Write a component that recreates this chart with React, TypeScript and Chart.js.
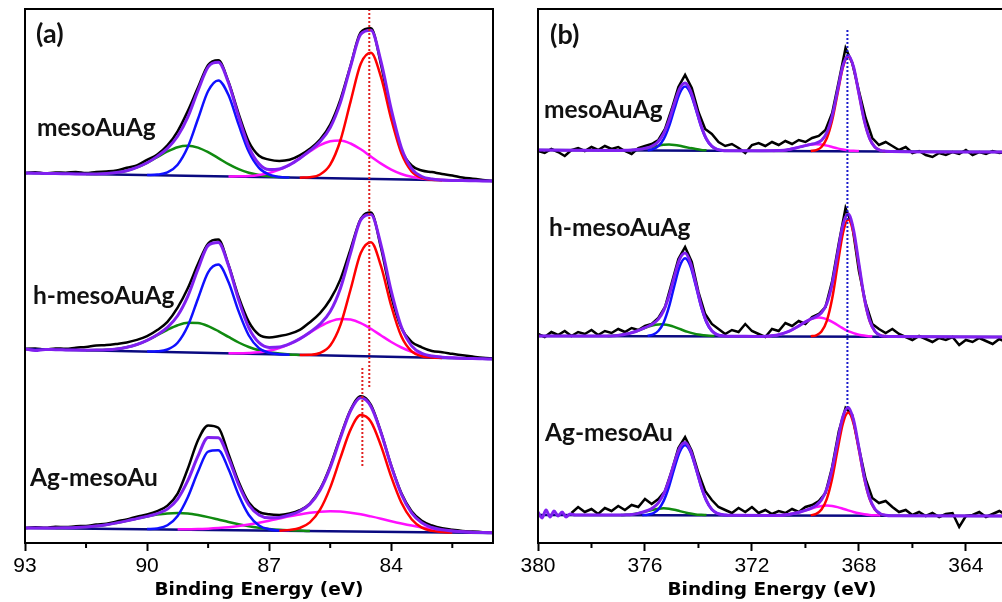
import React, { useEffect, useRef } from "react";
import { Chart, registerables } from "chart.js";

Chart.register(...registerables);

type Pair = [number, number];

// ================= Panel (a): Au 4f =================
const energyA = [
  93, 92.75, 92.5, 92.25, 92, 91.75, 91.5, 91.25, 91, 90.75,
  90.5, 90.25, 90, 89.75, 89.5, 89.25, 89, 88.75, 88.5, 88.25,
  88, 87.75, 87.5, 87.25, 87, 86.75, 86.5, 86.25, 86, 85.75,
  85.5, 85.25, 85, 84.75, 84.5, 84.25, 84, 83.75, 83.5, 83.25,
  83, 82.75, 82.5, 82.25, 82, 81.75, 81.5,
];
const ticksMajorA = [93, 90, 87, 84];
const ticksMinorA = [91.5, 88.5, 85.5, 82.5];

// mesoAuAg (a)
const rawA_meso = [
  370, 370.8, 369.6, 370.5, 370.3, 371.1, 370, 371.1, 371.5, 372.4,
  375.3, 377.6, 383.2, 388.6, 397.6, 411.7, 431.9, 455.4, 478, 482.8,
  461.2, 429.2, 401.2, 387.2, 383.4, 382.1, 383.2, 387.6, 394.3, 403.4,
  418.4, 443.4, 477.5, 510.7, 514.7, 478.1, 428.6, 393.1, 377.5, 372.5,
  370.9, 369, 367.6, 365.5, 364.3, 363.1, 362,
];
const fitA_meso = [
  370, 369.8, 369.6, 369.5, 369.3, 369.1, 369, 369.1, 369.5, 370.4,
  372.3, 375.6, 380.2, 386.6, 394.6, 406.7, 425.9, 452.4, 476, 480.8,
  460.2, 426.2, 396.2, 379.2, 373.4, 374.1, 378.2, 384.6, 392.3, 401.4,
  415.4, 440.4, 476.5, 508.7, 512.7, 481.1, 433.6, 395.1, 374.5, 366.5,
  363.9, 363, 362.6, 362.5, 362.3, 362.1, 362,
];
const blueA_meso: Pair[] = [[90,367.9],[89.75,368.4],[89.5,370.6],[89.25,378.3],[89,395.9],[88.75,424],[88.5,452],[88.25,462.6],[88,447.9],[87.75,418.3],[87.5,391.2],[87.25,375.1],[87,368.3],[86.75,366.1],[86.5,365.4]];
const redA_meso: Pair[] = [[86.25,365.3],[86,365.8],[85.75,368.5],[85.5,378.4],[85.25,402.5],[85,441.4],[84.75,479.2],[84.5,490.2],[84.25,465.6],[84,423.9],[83.75,389.6],[83.5,371.6],[83.25,365.2],[83,363.3],[82.75,362.8]];
const greenA_meso: Pair[] = [[91.5,369],[91.25,369.1],[91,369.5],[90.75,370.4],[90.5,372.3],[90.25,375.6],[90,380.2],[89.75,385.9],[89.5,391.5],[89.25,395.8],[89,397.2],[88.75,395.4],[88.5,390.8],[88.25,384.9],[88,378.8],[87.75,373.8],[87.5,370.2],[87.25,368],[87,366.7],[86.75,365.9],[86.5,365.4]];
const magentaA_meso: Pair[] = [[88,366.5],[87.75,366.7],[87.5,367],[87.25,368.1],[87,370],[86.75,373.3],[86.5,378.2],[86.25,384.6],[86,391.6],[85.75,397.8],[85.5,401.7],[85.25,402.5],[85,399.5],[84.75,393.7],[84.5,386.5],[84.25,379.4],[84,373.4],[83.75,369],[83.5,366.2],[83.25,364.5],[83,363.6],[82.75,363],[82.5,362.6]];
const baseA_meso: Pair[] = [[93,370],[81.5,362]];

// h-mesoAuAg (a)
const rawA_hmeso = [
  194, 194.5, 193.4, 194.6, 194.2, 195.3, 196.1, 197.4, 197.9, 199.1,
  200.6, 203.1, 206.8, 212.9, 221.2, 235.3, 254.7, 278.9, 299.5, 303.4,
  278.4, 246, 221.1, 208.3, 205.6, 207, 209.1, 213.1, 220.8, 229.9,
  243.5, 263.6, 293.9, 324.1, 330.4, 294.7, 246.8, 214.9, 201.2, 195.7,
  192, 190.8, 189.2, 187.7, 186.4, 185.2, 184.5,
];
const fitA_hmeso = [
  194, 192.6, 193.6, 193.3, 193.1, 192.9, 192.8, 192.9, 193.2, 194,
  195.7, 198.5, 202.7, 208.3, 215.7, 227.3, 246.7, 273.9, 297.5, 300.4,
  277.4, 243, 215.1, 200.3, 195.6, 196, 199.1, 204.1, 210.8, 218.9,
  231.5, 254.6, 289.9, 323.1, 328.4, 297.7, 251.8, 215.9, 197.2, 189.7,
  187, 185.8, 185.2, 184.7, 184.4, 184.2, 184,
];
const blueA_hmeso: Pair[] = [[90,191.4],[89.75,191.7],[89.5,193.5],[89.25,200.3],[89,217],[88.75,244.3],[88.5,270.7],[88.25,278.4],[88,261],[87.75,231.6],[87.5,207.5],[87.25,194.8],[87,190.2],[86.75,188.8],[86.5,188.3]];
const redA_hmeso: Pair[] = [[86.25,188.1],[86,188.3],[85.75,190],[85.5,197.5],[85.25,217.9],[85,253.5],[84.75,290],[84.5,300.8],[84.25,276.6],[84,237],[83.75,206.4],[83.5,191.6],[83.25,186.7],[83,185.5],[82.75,185.1]];
const greenA_hmeso: Pair[] = [[91.5,192.8],[91.25,192.9],[91,193.2],[90.75,194],[90.5,195.7],[90.25,198.5],[90,202.7],[89.75,207.8],[89.5,213.2],[89.25,217.7],[89,220.2],[88.75,219.9],[88.5,216.9],[88.25,211.9],[88,206.1],[87.75,200.5],[87.5,196],[87.25,192.8],[87,190.7],[86.75,189.5],[86.5,188.6],[86.25,188.1]];
const magentaA_hmeso: Pair[] = [[88,189.7],[87.75,189.7],[87.5,190],[87.25,190.7],[87,192.3],[86.75,194.9],[86.5,198.8],[86.25,204.1],[86,210.4],[85.75,216.6],[85.5,221.5],[85.25,224],[85,223.4],[84.75,219.9],[84.5,214.2],[84.25,207.5],[84,201],[83.75,195.5],[83.5,191.3],[83.25,188.5],[83,186.8],[82.75,185.8],[82.5,185.2],[82.25,184.7]];
const baseA_hmeso: Pair[] = [[93,194],[81.5,184]];

// Ag-mesoAu (a)
const rawA_agmeso = [
  15, 15.8, 15.2, 16.3, 15.9, 16.8, 17.1, 18.4, 19.3, 21.6,
  23.6, 26.4, 28.6, 31.9, 37.4, 49.4, 74.3, 102.8, 117.6, 115.3,
  89.1, 61.3, 40.5, 31.1, 28.7, 28.1, 29.5, 32.8, 39.4, 53.8,
  76.9, 106.4, 133.2, 146.7, 138.1, 110.5, 77.3, 49.7, 31.7, 22.2,
  17.5, 14.7, 13.2, 12.1, 11.4, 10.8, 10.4,
];
const fitA_agmeso = [
  15, 15, 15, 15, 15.2, 15.5, 16.1, 17, 18.3, 20.1,
  22.1, 24.4, 26.6, 29.4, 33.9, 43.9, 62.3, 86.8, 105.6, 105.3,
  85.1, 58.3, 38, 28.1, 25.2, 25.6, 28, 31.8, 38.9, 52.8,
  75.4, 104.9, 132.2, 145.2, 136.6, 110, 76.8, 48.7, 30.2, 20.2,
  15.5, 13.2, 12, 11.3, 10.8, 10.5, 10.2,
];
const blueA_agmeso: Pair[] = [[90,13.9],[89.75,14.6],[89.5,17.8],[89.25,27.1],[89,45.7],[88.75,71.2],[88.5,91.4],[88.25,92.7],[88,74],[87.75,48],[87.5,28],[87.25,17.6],[87,13.7],[86.75,12.5],[86.5,12.2]];
const redA_agmeso: Pair[] = [[86.75,12.3],[86.5,13],[86.25,15],[86,20.6],[85.75,33.3],[85.5,55.4],[85.25,85.1],[85,113.4],[84.75,127.9],[84.5,121.3],[84.25,96.9],[84,66.1],[83.75,40.2],[83.5,23.7],[83.25,15.4],[83,12.1],[82.75,10.9],[82.5,10.5]];
const greenA_agmeso: Pair[] = [[92.25,15],[92,15.2],[91.75,15.5],[91.5,16.1],[91.25,17],[91,18.3],[90.75,20.1],[90.5,22.1],[90.25,24.4],[90,26.6],[89.75,28.4],[89.5,29.6],[89.25,29.9],[89,29.4],[88.75,27.9],[88.5,25.9],[88.25,23.5],[88,21],[87.75,18.8],[87.5,16.8],[87.25,15.3],[87,14.1],[86.75,13.3],[86.5,12.8],[86.25,12.4],[86,11.9]];
const magentaA_agmeso: Pair[] = [[89.25,13.7],[89,13.8],[88.75,13.9],[88.5,14.3],[88.25,14.9],[88,15.7],[87.75,16.9],[87.5,18.4],[87.25,20.2],[87,22.2],[86.75,24.4],[86.5,26.6],[86.25,28.6],[86,30.2],[85.75,31.3],[85.5,31.7],[85.25,31.4],[85,30.3],[84.75,28.7],[84.5,26.6],[84.25,24.3],[84,21.8],[83.75,19.5],[83.5,17.4],[83.25,15.6],[83,14.1],[82.75,12.9],[82.5,12],[82.25,11.3],[82,10.8],[81.75,10.5],[81.5,10.2]];
const baseA_agmeso: Pair[] = [[93,15],[81.5,10]];

// reference lines (a)
const refLineA1: Pair[] = [[84.54,534],[84.54,155]];
const refLineA2: Pair[] = [[84.71,175],[84.71,76]];

// ================= Panel (b): Ag 3d =================
const energyB = [
  380, 379.75, 379.5, 379.25, 379, 378.75, 378.5, 378.25, 378, 377.75,
  377.5, 377.25, 377, 376.75, 376.5, 376.25, 376, 375.75, 375.5, 375.25,
  375, 374.75, 374.5, 374.25, 374, 373.75, 373.5, 373.25, 373, 372.75,
  372.5, 372.25, 372, 371.75, 371.5, 371.25, 371, 370.75, 370.5, 370.25,
  370, 369.75, 369.5, 369.25, 369, 368.75, 368.5, 368.25, 368, 367.75,
  367.5, 367.25, 367, 366.75, 366.5, 366.25, 366, 365.75, 365.5, 365.25,
  365, 364.75, 364.5, 364.25, 364, 363.75, 363.5, 363.25, 363, 362.75,
  362.5,
];
const ticksMajorB = [380, 376, 372, 368, 364];
const ticksMinorB = [378, 374, 370, 366];

const rawB_meso = [
  392, 390, 394, 391, 387, 393, 395, 392, 396, 393,
  397, 394, 396, 392, 389, 395, 397, 399, 403, 414,
  434, 456, 468, 455, 431, 414, 409, 401, 397, 399,
  395, 390, 398, 400, 397, 401, 398, 402, 399, 403,
  401, 405, 407, 413, 430, 462, 495, 480, 452, 425,
  405, 398, 401, 397, 393, 396, 390, 392, 388, 386,
  390, 388, 391, 389, 393, 388, 391, 389, 392, 390,
  391,
];
const fitB_meso: Pair[] = [[380,393],[376.9,392.6],[376.7,392.8],[376.5,393],[376.3,393.4],[376.1,394.1],[375.9,395.3],[375.7,397.4],[375.5,401.6],[375.3,409.5],[375.1,422.7],[374.9,439.6],[374.7,454.6],[374.5,460],[374.3,452.3],[374.1,435.4],[373.9,417.3],[373.7,404],[373.5,396.8],[373.3,393.6],[373.1,392.6],[372.9,392.3],[372.7,392.2],[370.8,392.8],[370.6,393.6],[370.4,394.8],[370.2,396.1],[370,397.4],[369.8,398.6],[369.6,399.9],[369.4,402.6],[369.2,410.3],[369,426.9],[368.8,452.2],[368.6,477.2],[368.4,487.6],[368.2,476],[368,449.5],[367.8,422.5],[367.6,404.5],[367.4,395.8],[367.2,392.7],[367,391.8],[366.8,391.6],[362.5,391]];
const blueB_meso: Pair[] = [[375.9,392.8],[375.7,393.8],[375.5,396.8],[375.3,403.8],[375.1,416.7],[374.9,433.9],[374.7,449.8],[374.5,456.4],[374.3,449.8],[374.1,433.9],[373.9,416.5],[373.7,403.6],[373.5,396.6],[373.3,393.6],[373.1,392.6]];
const greenB_meso: Pair[] = [[376.5,393],[376.3,393.4],[376.1,394.1],[375.9,395],[375.7,396.1],[375.5,397.3],[375.3,398.2],[375.1,398.5],[374.9,398.1],[374.7,397.2],[374.5,396],[374.3,394.9],[374.1,393.9],[373.9,393.1],[373.7,392.7]];
const redB_meso: Pair[] = [[369.8,392],[369.6,392.9],[369.4,396],[369.2,404.7],[369,422.7],[368.8,449.3],[368.6,475.5],[368.4,486.7],[368.2,475.5],[368,449.3],[367.8,422.5],[367.6,404.5],[367.4,395.8],[367.2,392.7],[367,391.6]];
const magentaB_meso: Pair[] = [[371.2,392.1],[371,392.4],[370.8,392.8],[370.6,393.6],[370.4,394.8],[370.2,396.1],[370,397.4],[369.8,398.4],[369.6,398.8],[369.4,398.4],[369.2,397.4],[369,396],[368.8,394.6],[368.6,393.4],[368.4,392.6],[368.2,392.2],[368,391.9]];
const baseB_meso: Pair[] = [[380,393],[362.5,391]];

const rawB_hmeso = [
  209, 206, 211, 208, 212, 207, 211, 209, 213, 208,
  212, 210, 214, 211, 215, 213, 217, 219, 225, 236,
  260, 284, 296, 281, 251, 229, 219, 214, 209, 213,
  211, 219, 212, 209, 206, 214, 212, 220, 217, 222,
  219, 226, 229, 236, 262, 300, 335, 318, 272, 240,
  219, 214, 210, 214, 209, 206, 203, 207, 204, 201,
  205, 203, 206, 198, 203, 201, 205, 202, 199, 204,
  201,
];
const fitB_hmeso: Pair[] = [[380,207],[377.3,207.1],[376.9,208],[376.7,209],[376.5,210.3],[376.3,212],[376.1,214.2],[375.9,216.5],[375.7,219.3],[375.5,223.9],[375.3,232.5],[375.1,247.2],[374.9,266.7],[374.7,284.1],[374.5,290],[374.3,280.3],[374.1,259.6],[373.9,237.5],[373.7,221.3],[373.5,212.3],[373.3,208.4],[373.1,207.2],[372.9,206.8],[372.7,206.8],[371.8,206.5],[371.6,206.6],[371.4,206.9],[371.2,207.4],[371,208.3],[370.8,209.8],[370.6,211.9],[370.4,214.7],[370.2,217.9],[370,221.1],[369.8,224],[369.6,226.5],[369.4,230.3],[369.2,239.5],[369,259.1],[368.8,288.9],[368.6,317.9],[368.4,328.9],[368.2,313],[368,279.3],[367.8,245.4],[367.6,222.7],[367.4,211.7],[367.2,207.7],[367,206.7],[366.8,206.4],[362.5,206]];
const blueB_hmeso: Pair[] = [[375.9,207.2],[375.7,208.4],[375.5,212],[375.3,220.6],[375.1,236.3],[374.9,257.4],[374.7,276.8],[374.5,284.8],[374.3,276.8],[374.1,257.4],[373.9,236.3],[373.7,220.6],[373.5,212],[373.3,208.4],[373.1,207.2]];
const greenB_hmeso: Pair[] = [[377.4,207],[377.2,207.2],[377,207.7],[376.8,208.4],[376.6,209.6],[376.4,211.1],[376.2,213],[376,215.1],[375.8,217],[375.6,218.3],[375.4,218.8],[375.2,218.3],[375,217],[374.8,215.1],[374.6,213],[374.4,211.1],[374.2,209.6],[374,208.4],[373.8,207.7],[373.6,207.2],[373.4,207]];
const redB_hmeso: Pair[] = [[369.8,206.7],[369.6,207.7],[369.4,211.5],[369.2,222.2],[369,244.4],[368.8,277.4],[368.6,309.6],[368.4,323.4],[368.2,309.6],[368,277.4],[367.8,244.4],[367.6,222.2],[367.4,211.5],[367.2,207.7],[367,206.7]];
const magentaB_hmeso: Pair[] = [[371.5,206.7],[371.3,207.1],[371.1,207.8],[370.9,209],[370.7,210.8],[370.5,213.2],[370.3,216.3],[370.1,219.6],[369.9,222.5],[369.7,224.6],[369.5,225.4],[369.3,224.6],[369.1,222.5],[368.9,219.6],[368.7,216.3],[368.5,213.2],[368.3,210.8],[368.1,209],[367.9,207.8],[367.7,207.1],[367.5,206.7]];
const baseB_hmeso: Pair[] = [[380,207],[362.5,206]];

const rawB_agmeso: (number | null)[] = [
  null, null, null, null, null, 30, 36, 31, 34, 29,
  35, 32, 37, 33, 38, 36, 44, 39, 44, 52,
  72, 95, 106, 92, 70, 52, 43, 36, 33, 30,
  35, 31, 36, 30, 33, 29, 32, 30, 34, 31,
  36, 38, 42, 50, 76, 112, 135, 128, 95, 64,
  45, 40, 42, 36, 31, 33, 28, 31, 27, 30,
  26, 29, 30, 16, 27, 28, 31, 26, 29, 32,
  28,
];
const fitB_agmeso: Pair[] = [[380,31],[379.85,25],[379.7,33],[379.55,26],[379.4,32],[379.25,27],[379.1,31],[378.95,26],[378.8,29],[378.6,28],[376.9,28],[376.7,28.2],[376.5,28.6],[376.3,29.4],[376.1,30.7],[375.9,32.5],[375.7,35.3],[375.5,40.2],[375.3,49.1],[375.1,63.1],[374.9,80.5],[374.7,95.3],[374.5,100.6],[374.3,92.8],[374.1,75.8],[373.9,57],[373.7,42.3],[373.5,33.6],[373.3,29.7],[373.1,28.3],[372.9,27.8],[372.7,27.7],[371.4,27.5],[371.2,27.6],[371,27.8],[370.8,28.1],[370.6,28.8],[370.4,29.7],[370.2,31],[370,32.6],[369.8,34.7],[369.6,37.6],[369.4,43.1],[369.2,54.2],[369,74.2],[368.8,101.4],[368.6,126.3],[368.4,135.6],[368.2,123],[368,95.2],[367.8,65.9],[367.6,44.9],[367.4,33.9],[367.2,29.3],[367,27.8],[366.8,27.3],[362.5,27]];
const blueB_agmeso: Pair[] = [[376.1,27.8],[375.9,28.3],[375.7,29.7],[375.5,33.6],[375.3,42.1],[375.1,56.5],[374.9,74.9],[374.7,91.1],[374.5,97.7],[374.3,91.1],[374.1,74.9],[373.9,56.5],[373.7,42.1],[373.5,33.6],[373.3,29.7],[373.1,28.3],[372.9,27.8]];
const greenB_agmeso: Pair[] = [[376.9,27.9],[376.7,28.2],[376.5,28.6],[376.3,29.4],[376.1,30.6],[375.9,31.9],[375.7,33.3],[375.5,34.3],[375.3,34.7],[375.1,34.3],[374.9,33.3],[374.7,31.9],[374.5,30.6],[374.3,29.4],[374.1,28.6],[373.9,28.2],[373.7,27.9]];
const redB_agmeso: Pair[] = [[369.8,27.8],[369.6,29.1],[369.4,33.5],[369.2,44.2],[369,64.6],[368.8,92.9],[368.6,119.4],[368.4,130.4],[368.2,119.4],[368,92.9],[367.8,64.6],[367.6,44.2],[367.4,33.5],[367.2,29.1],[367,27.8]];
const magentaB_agmeso: Pair[] = [[371.2,27.6],[371,27.8],[370.8,28.1],[370.6,28.75],[370.4,29.7],[370.2,31],[370,32.6],[369.8,34.3],[369.6,35.9],[369.4,37],[369.2,37.4],[369,37],[368.8,35.9],[368.6,34.3],[368.4,32.6],[368.2,31],[368,29.7],[367.8,28.75],[367.6,28.1],[367.4,27.8],[367.2,27.6]];
const baseB_agmeso: Pair[] = [[380,28],[362.5,27]];

const refLineB: Pair[] = [[368.43,513],[368.43,136]];

// ================= helpers =================
const C = {
  raw: "#000000",
  fit: "#8020f0",
  blue: "#1010ff",
  red: "#ff0000",
  green: "#108a10",
  magenta: "#ff10ff",
  base: "#0a0a80",
};

const fromGrid = (xs: number[], ys: (number | null)[]) => xs.map((x, i) => ({ x, y: ys[i] }));
const fromPairs = (ps: Pair[]) => ps.map(([x, y]) => ({ x, y }));

const line = (data: any[], color: string, width: number, extra: any = {}) => ({
  data,
  borderColor: color,
  backgroundColor: color,
  borderWidth: width,
  pointRadius: 0,
  pointHoverRadius: 0,
  fill: false,
  cubicInterpolationMode: "monotone",
  spanGaps: false,
  ...extra,
});

const framePlugin = {
  id: "frame",
  afterDatasetsDraw(chart: any, _args: any, opts: any) {
    const { ctx, chartArea } = chart;
    const { left, right, top, bottom } = chartArea;
    ctx.save();
    ctx.strokeStyle = "#000";
    ctx.lineWidth = 2;
    ctx.strokeRect(left, top, right - left, bottom - top);
    const xs = chart.scales.x;
    ctx.beginPath();
    (opts.minor || []).forEach((v: number) => {
      const px = xs.getPixelForValue(v);
      ctx.moveTo(px, bottom);
      ctx.lineTo(px, bottom + 5);
    });
    ctx.stroke();
    ctx.restore();
  },
};

function makeOptions(min: number, max: number, majors: number[], minors: number[], padLeft: number, padRight: number) {
  return {
    animation: false,
    responsive: false,
    events: [],
    layout: { padding: { left: padLeft, right: padRight, top: 9, bottom: 0 } },
    plugins: {
      legend: { display: false },
      tooltip: { enabled: false },
      frame: { minor: minors },
    },
    scales: {
      x: {
        type: "linear",
        reverse: true,
        min,
        max,
        afterBuildTicks: (s: any) => {
          s.ticks = majors.map((v) => ({ value: v }));
        },
        afterFit: (s: any) => {
          s.height = 59;
        },
        grid: {
          display: true,
          drawOnChartArea: false,
          drawTicks: true,
          tickLength: 8,
          tickWidth: 2,
          tickColor: "#000",
        },
        border: { display: false },
        ticks: {
          color: "#000",
          font: { family: "'Liberation Sans', Arial, sans-serif", size: 21 },
          padding: 3,
          maxRotation: 0,
          autoSkip: false,
          callback: (v: any) => String(v),
        },
        title: {
          display: true,
          text: "Binding Energy (eV)",
          color: "#000",
          font: { family: "'DejaVu Sans', sans-serif", size: 18.5, weight: "bold" },
          padding: { top: 0, bottom: 1 },
        },
      },
      y: { type: "linear", display: false, min: 0, max: 534 },
    },
  };
}

function configA(): any {
  const dot = { borderDash: [2, 2], cubicInterpolationMode: "default", tension: 0 };
  const straight = { tension: 0, cubicInterpolationMode: "default" };
  return {
    type: "line",
    data: {
      datasets: [
        line(fromPairs(refLineA1), "#e02020", 2, dot),
        line(fromPairs(refLineA2), "#e02020", 2, dot),
        line(fromGrid(energyA, fitA_meso), C.fit, 3),
        line(fromGrid(energyA, fitA_hmeso), C.fit, 3),
        line(fromGrid(energyA, fitA_agmeso), C.fit, 3),
        line(fromPairs(redA_meso), C.red, 2.5),
        line(fromPairs(redA_hmeso), C.red, 2.5),
        line(fromPairs(redA_agmeso), C.red, 2.5),
        line(fromPairs(blueA_meso), C.blue, 2.5),
        line(fromPairs(blueA_hmeso), C.blue, 2.5),
        line(fromPairs(blueA_agmeso), C.blue, 2.5),
        line(fromPairs(magentaA_meso), C.magenta, 2.5),
        line(fromPairs(magentaA_hmeso), C.magenta, 2.5),
        line(fromPairs(magentaA_agmeso), C.magenta, 2.5),
        line(fromPairs(greenA_meso), C.green, 2.5),
        line(fromPairs(greenA_hmeso), C.green, 2.5),
        line(fromPairs(greenA_agmeso), C.green, 2.5),
        line(fromPairs(baseA_meso), C.base, 2.5, straight),
        line(fromPairs(baseA_hmeso), C.base, 2.5, straight),
        line(fromPairs(baseA_agmeso), C.base, 2.5, straight),
        line(fromGrid(energyA, rawA_meso), C.raw, 2.5),
        line(fromGrid(energyA, rawA_hmeso), C.raw, 2.5),
        line(fromGrid(energyA, rawA_agmeso), C.raw, 2.5),
      ],
    },
    options: makeOptions(81.5, 93, ticksMajorA, ticksMinorA, 25, 27),
    plugins: [framePlugin],
  };
}

function configB(): any {
  const dot = { borderDash: [2, 2], cubicInterpolationMode: "default", tension: 0 };
  const noisy = { cubicInterpolationMode: "default", tension: 0 };
  return {
    type: "line",
    data: {
      datasets: [
        line(fromPairs(refLineB), "#1a1acc", 2, dot),
        line(fromPairs(fitB_meso), C.fit, 3),
        line(fromPairs(fitB_hmeso), C.fit, 3),
        line(fromPairs(fitB_agmeso), C.fit, 3),
        line(fromPairs(redB_meso), C.red, 2.5),
        line(fromPairs(redB_hmeso), C.red, 2.5),
        line(fromPairs(redB_agmeso), C.red, 2.5),
        line(fromPairs(blueB_meso), C.blue, 2.5),
        line(fromPairs(blueB_hmeso), C.blue, 2.5),
        line(fromPairs(blueB_agmeso), C.blue, 2.5),
        line(fromPairs(magentaB_meso), C.magenta, 2.5),
        line(fromPairs(magentaB_hmeso), C.magenta, 2.5),
        line(fromPairs(magentaB_agmeso), C.magenta, 2.5),
        line(fromPairs(greenB_meso), C.green, 2.5),
        line(fromPairs(greenB_hmeso), C.green, 2.5),
        line(fromPairs(greenB_agmeso), C.green, 2.5),
        line(fromPairs(baseB_meso), C.base, 2.5, noisy),
        line(fromPairs(baseB_hmeso), C.base, 2.5, noisy),
        line(fromPairs(baseB_agmeso), C.base, 2.5, noisy),
        line(fromGrid(energyB, rawB_meso), C.raw, 2.5, noisy),
        line(fromGrid(energyB, rawB_hmeso), C.raw, 2.5, noisy),
        line(fromGrid(energyB, rawB_agmeso), C.raw, 2.5, noisy),
      ],
    },
    options: makeOptions(362.5, 380, ticksMajorB, ticksMinorB, 33, 19),
    plugins: [framePlugin],
  };
}

function ChartCanvas({ make, left }: { make: () => any; left: number }) {
  const ref = useRef<HTMLCanvasElement>(null);
  useEffect(() => {
    const chart = new Chart(ref.current as HTMLCanvasElement, make());
    return () => chart.destroy();
  }, [make]);
  return (
    <canvas
      ref={ref}
      width={520}
      height={602}
      style={{ position: "absolute", left, top: 0, width: 520, height: 602 }}
    />
  );
}

const labelStyle = (left: number, top: number, size = 24): React.CSSProperties => ({
  position: "absolute",
  left,
  top,
  fontFamily: "Lato, 'Open Sans', sans-serif",
  fontWeight: 700,
  fontSize: size,
  lineHeight: `${size}px`,
  color: "#111",
  whiteSpace: "nowrap",
  pointerEvents: "none",
});

export default function App() {
  return (
    <div
      style={{
        position: "fixed",
        left: 0,
        top: 0,
        width: 1002,
        height: 602,
        overflow: "hidden",
        background: "#ffffff",
      }}
    >
      <ChartCanvas make={configA} left={0} />
      <ChartCanvas make={configB} left={505} />
      <div style={labelStyle(36, 19.4, 27)}>(a)</div>
      <div style={labelStyle(37, 114.7, 24.5)}>mesoAuAg</div>
      <div style={labelStyle(33, 283.2, 24.5)}>h-mesoAuAg</div>
      <div style={labelStyle(30, 464.7, 24.5)}>Ag-mesoAu</div>
      <div style={labelStyle(550, 20.4, 27)}>(b)</div>
      <div style={labelStyle(544, 97, 24.5)}>mesoAuAg</div>
      <div style={labelStyle(549, 215.4, 24.5)}>h-mesoAuAg</div>
      <div style={labelStyle(545, 420.4, 24.5)}>Ag-mesoAu</div>
    </div>
  );
}
